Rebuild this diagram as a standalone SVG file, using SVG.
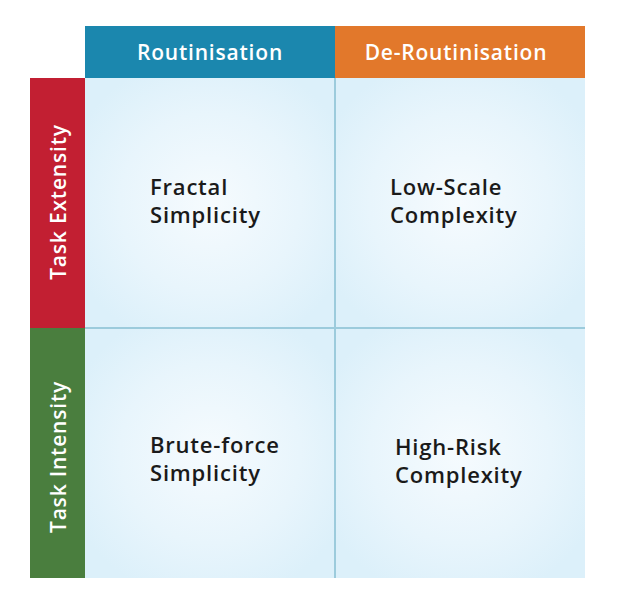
<svg xmlns="http://www.w3.org/2000/svg" width="622" height="603" viewBox="0 0 622 603">
<defs>
<radialGradient id="cellg" cx="0.5" cy="0.5" r="0.6">
<stop offset="0" stop-color="#f6fbfe"/>
<stop offset="0.6" stop-color="#e8f5fc"/>
<stop offset="1" stop-color="#dcf0fa"/>
</radialGradient>
<style>
.hdr{font-family:"Open Sans","Liberation Sans",sans-serif;font-size:21px;font-weight:600;letter-spacing:0.8px;fill:#ffffff;}
.lbl{font-family:"Open Sans","Liberation Sans",sans-serif;font-size:22px;font-weight:600;letter-spacing:0.8px;fill:#1a1a1a;}
.grid{stroke:#9ccbdc;stroke-width:2;fill:none;}
</style>
</defs>
<rect x="0" y="0" width="622" height="603" fill="#ffffff"/>
<g id="cell-fractal"><rect x="85" y="78" width="250" height="250" fill="url(#cellg)"/>
<text class="lbl" x="150" y="195">Fractal</text><text class="lbl" x="150" y="223">Simplicity</text></g>
<g id="cell-lowscale"><rect x="335" y="78" width="250" height="250" fill="url(#cellg)"/>
<text class="lbl" x="390" y="195">Low-Scale</text><text class="lbl" x="390" y="223">Complexity</text></g>
<g id="cell-bruteforce"><rect x="85" y="328" width="250" height="250" fill="url(#cellg)"/>
<text class="lbl" x="150" y="453">Brute-force</text><text class="lbl" x="150" y="481">Simplicity</text></g>
<g id="cell-highrisk"><rect x="335" y="328" width="250" height="250" fill="url(#cellg)"/>
<text class="lbl" x="395" y="455">High-Risk</text><text class="lbl" x="395" y="483">Complexity</text></g>
<g id="connectors">
<line class="grid" x1="335" y1="78" x2="335" y2="578"/>
<line class="grid" x1="85" y1="328" x2="585" y2="328"/>
</g>
<g id="hdr-routinisation"><rect x="85" y="26" width="250" height="52" fill="#1b87ae"/>
<text class="hdr" x="210" y="60" text-anchor="middle">Routinisation</text></g>
<g id="hdr-deroutinisation"><rect x="335" y="26" width="250" height="52" fill="#e2782b"/>
<text class="hdr" x="456" y="60" text-anchor="middle">De-Routinisation</text></g>
<g id="side-extensity"><rect x="30" y="78" width="55" height="250" fill="#c21f32"/>
<text class="hdr" transform="translate(66 202) rotate(-90)" text-anchor="middle">Task Extensity</text></g>
<g id="side-intensity"><rect x="30" y="328" width="55" height="250" fill="#4a7e3e"/>
<text class="hdr" transform="translate(66 457) rotate(-90)" text-anchor="middle">Task Intensity</text></g>
</svg>
